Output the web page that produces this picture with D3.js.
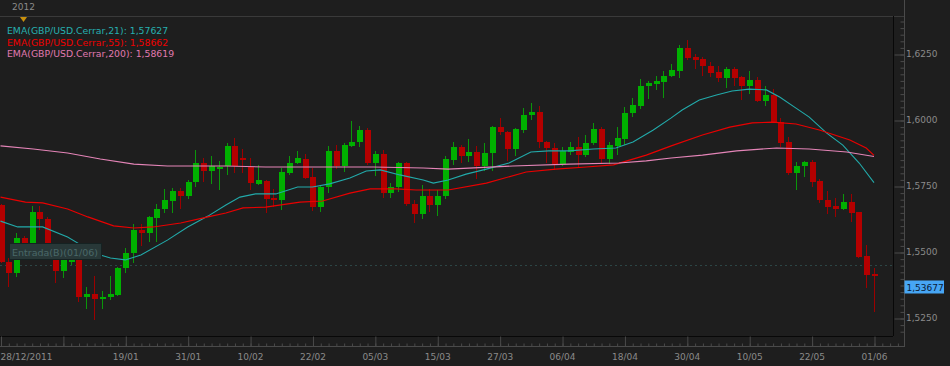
<!DOCTYPE html>
<html>
<head>
<meta charset="utf-8">
<script src="https://cdnjs.cloudflare.com/ajax/libs/d3/7.8.5/d3.min.js"></script>
<style>
body { margin: 0; background: #1e1e1e; }
svg { display: block; font-family: "DejaVu Sans", sans-serif; }
</style>
</head>
<body>
<svg id="chart" width="950" height="366"></svg>
<script>
// GBP/USD daily candles, 28/12/2011 .. 01/06/2012
var opens = [1.5678,1.5462,1.5420,1.5553,1.5508,1.5652,1.5625,1.5508,1.5428,1.5462,
	1.5500,1.5330,1.5341,1.5322,1.5330,1.5337,1.5439,1.5496,1.5583,1.5572,
	1.5629,1.5663,1.5693,1.5731,1.5712,1.5765,1.5837,1.5807,1.5814,1.5826,
	1.5902,1.5856,1.5822,1.5758,1.5769,1.5705,1.5697,1.5799,1.5837,1.5852,
	1.5784,1.5670,1.5746,1.5883,1.5826,1.5902,1.5917,1.5962,1.5837,1.5871,
	1.5723,1.5746,1.5837,1.5682,1.5644,1.5712,1.5678,1.5712,1.5848,1.5898,
	1.5864,1.5879,1.5826,1.5875,1.5973,1.5955,1.5890,1.5962,1.6019,1.6030,
	1.5917,1.5894,1.5833,1.5879,1.5898,1.5867,1.5913,1.5966,1.5852,1.5902,
	1.5928,1.6027,1.6053,1.6129,1.6136,1.6144,1.6167,1.6186,1.6273,1.6239,
	1.6231,1.6205,1.6182,1.6159,1.6193,1.6163,1.6129,1.6152,1.6072,1.6095,
	1.5992,1.5917,1.5799,1.5826,1.5841,1.5769,1.5697,1.5674,1.5663,1.5689,
	1.5652,1.5485,1.5417];
var highs = [1.5682,1.5477,1.5572,1.5561,1.5674,1.5674,1.5633,1.5523,1.5489,1.5489,
	1.5515,1.5367,1.5409,1.5352,1.5409,1.5443,1.5515,1.5606,1.5606,1.5636,
	1.5682,1.5739,1.5742,1.5742,1.5773,1.5886,1.5856,1.5864,1.5845,1.5913,
	1.5932,1.5890,1.5856,1.5830,1.5773,1.5739,1.5818,1.5864,1.5883,1.5871,
	1.5818,1.5754,1.5902,1.5905,1.5913,1.5996,1.5977,1.5970,1.5883,1.5886,
	1.5761,1.5841,1.5841,1.5697,1.5754,1.5739,1.5735,1.5864,1.5917,1.5905,
	1.5928,1.5902,1.5913,1.5977,1.6008,1.5958,1.5970,1.6045,1.6064,1.6053,
	1.5920,1.5913,1.5898,1.5917,1.5936,1.5943,1.5989,1.5973,1.5917,1.5973,
	1.6049,1.6083,1.6155,1.6148,1.6167,1.6186,1.6212,1.6284,1.6303,1.6250,
	1.6239,1.6220,1.6205,1.6201,1.6201,1.6167,1.6186,1.6163,1.6129,1.6117,
	1.6008,1.5936,1.5841,1.5845,1.5848,1.5777,1.5731,1.5705,1.5720,1.5720,
	1.5652,1.5527,1.5439];
var lows = [1.5458,1.5367,1.5405,1.5477,1.5496,1.5583,1.5508,1.5382,1.5402,1.5451,
	1.5311,1.5284,1.5243,1.5284,1.5318,1.5333,1.5420,1.5458,1.5523,1.5538,
	1.5538,1.5648,1.5648,1.5663,1.5701,1.5746,1.5765,1.5758,1.5735,1.5792,
	1.5799,1.5799,1.5735,1.5754,1.5648,1.5670,1.5659,1.5792,1.5833,1.5777,
	1.5655,1.5652,1.5723,1.5814,1.5803,1.5898,1.5898,1.5830,1.5788,1.5705,
	1.5705,1.5727,1.5674,1.5610,1.5625,1.5652,1.5636,1.5701,1.5830,1.5837,
	1.5841,1.5777,1.5807,1.5807,1.5943,1.5845,1.5864,1.5951,1.6000,1.5894,
	1.5837,1.5811,1.5826,1.5867,1.5818,1.5860,1.5905,1.5837,1.5833,1.5867,
	1.5905,1.6011,1.6042,1.6080,1.6114,1.6083,1.6163,1.6159,1.6227,1.6193,
	1.6167,1.6163,1.6144,1.6121,1.6129,1.6076,1.6098,1.6068,1.6053,1.5989,
	1.5898,1.5792,1.5735,1.5784,1.5746,1.5686,1.5644,1.5633,1.5659,1.5614,
	1.5477,1.5364,1.5273];
var closes = [1.5462,1.5420,1.5553,1.5489,1.5652,1.5625,1.5523,1.5428,1.5477,1.5477,
	1.5330,1.5341,1.5322,1.5330,1.5341,1.5439,1.5496,1.5583,1.5572,1.5633,
	1.5663,1.5697,1.5731,1.5712,1.5765,1.5837,1.5807,1.5826,1.5822,1.5902,
	1.5826,1.5848,1.5761,1.5773,1.5701,1.5697,1.5803,1.5837,1.5856,1.5780,
	1.5670,1.5746,1.5883,1.5826,1.5905,1.5917,1.5962,1.5837,1.5871,1.5723,
	1.5746,1.5837,1.5682,1.5644,1.5712,1.5678,1.5712,1.5852,1.5898,1.5864,
	1.5879,1.5826,1.5875,1.5973,1.5955,1.5890,1.5966,1.6019,1.6030,1.5917,
	1.5894,1.5833,1.5883,1.5898,1.5867,1.5913,1.5966,1.5852,1.5905,1.5932,
	1.6027,1.6057,1.6129,1.6140,1.6148,1.6167,1.6189,1.6273,1.6235,1.6227,
	1.6205,1.6178,1.6159,1.6193,1.6159,1.6129,1.6152,1.6072,1.6095,1.5992,
	1.5913,1.5799,1.5826,1.5841,1.5765,1.5697,1.5670,1.5663,1.5689,1.5648,
	1.5481,1.5413,1.5409];

// EMA curves, sampled along the picture (candle index, value)
var ema21Idx = [0,2.2,4.2,5.4,8.6,10.3,12.8,14.1,16,18,21.4,24,26.6,28.9,30.7,32.7,35.3,38.1,40,42.2,
	44.8,46.9,48.7,51.2,54.2,55.5,57.4,59.7,62.3,65.2,68,70.3,72.9,76,78.9,81.1,83.7,86,87.4,89.6,
	91.8,93.8,96,98.2,99.9,102,103.7,105.9,108,110.1,112];
var ema21Val = [1.5617,1.5595,1.5595,1.5595,1.5557,1.5527,1.5489,1.5477,1.5470,1.5489,1.5545,1.5595,1.5636,1.5678,1.5708,1.5720,1.5720,1.5746,1.5746,1.5758,
	1.5780,1.5807,1.5811,1.5792,1.5773,1.5761,1.5773,1.5795,1.5814,1.5837,1.5879,1.5883,1.5883,1.5890,1.5894,1.5917,1.5962,1.6008,1.6038,1.6076,
	1.6095,1.6110,1.6117,1.6114,1.6087,1.6045,1.6011,1.5951,1.5905,1.5837,1.5763];
var ema55Idx = [0,3.2,5.4,8.6,11.2,14.5,17.1,19.6,23.1,26.6,28.9,31.1,34,38.4,41.3,44.8,47.4,50.7,53.3,57.4,
	62.3,67.4,71.2,75.1,78.6,82.8,86,90,93.5,96.4,99,102,105,108.9,111,112];
var ema55Val = [1.5708,1.5689,1.5686,1.5663,1.5633,1.5599,1.5591,1.5595,1.5610,1.5633,1.5648,1.5667,1.5670,1.5689,1.5693,1.5723,1.5739,1.5739,1.5735,1.5735,
	1.5761,1.5803,1.5814,1.5822,1.5830,1.5867,1.5902,1.5943,1.5973,1.5989,1.5992,1.5985,1.5962,1.5924,1.5894,1.5866];
var ema200Idx = [0,4.2,8.6,12.8,17.1,21.4,28.9,34,41.3,47.8,54.2,57.4,65.7,72.9,79.3,82.8,86,90,94.4,99.5,103.7,108.5,112];
var ema200Val = [1.5902,1.5890,1.5875,1.5852,1.5833,1.5826,1.5826,1.5822,1.5822,1.5822,1.5818,1.5814,1.5826,1.5833,1.5837,1.5845,1.5856,1.5867,1.5883,1.5894,1.5890,1.5879,1.5862];

var legendLabels = ['EMA(GBP/USD.Cerrar,21): 1,57627', 'EMA(GBP/USD.Cerrar,55): 1,58662', 'EMA(GBP/USD.Cerrar,200): 1,58619'];
var xTickIdx = [0,8,16,24,32,40,48,56,64,72,80,88,96,104,112];
var xTickLabels = ['28/12/2011','','19/01','31/01','10/02','22/02','05/03','15/03','27/03','06/04','18/04','30/04','10/05','22/05','01/06'];
var yMajor = [1.5250,1.5500,1.5750,1.6000,1.6250];
var lastPrice = 1.53677;
var entryPrice = 1.5451;
var entryLabel = 'Entrada(B)(01/06)';

var W = 950, H = 366;
var plotRight = 893, plotTop = 16, plotBottom = 336, axisX = 904, axisY = 346;
var colUp = '#00b000', colDown = '#b40000';
var colEma = ['#22aaaa', '#ea0000', '#e585b8'];
var colLegend = ['#26b0b0', '#f00000', '#e07ab0'];

var svg = d3.select('#chart');
var x = d3.scaleLinear().domain([0, 112]).range([0.5, 874]);
var y = d3.scaleLinear().domain([1.5250, 1.6250]).range([318, 54]);

svg.append('rect').attr('width', W).attr('height', H).attr('fill', '#1e1e1e');

svg.append('clipPath').attr('id', 'plotClip')
	.append('rect').attr('x', 0).attr('y', plotTop).attr('width', plotRight).attr('height', plotBottom - plotTop);

var plot = svg.append('g').attr('clip-path', 'url(#plotClip)');

// entry dotted line
plot.append('line')
	.attr('x1', 0).attr('x2', plotRight)
	.attr('y1', Math.round(y(entryPrice)) + 0.5).attr('y2', Math.round(y(entryPrice)) + 0.5)
	.attr('stroke', '#2c4646').attr('stroke-dasharray', '2,3');

var candles = d3.range(closes.length).map(function(i) {
	return { i: i, o: opens[i], h: highs[i], l: lows[i], c: closes[i] };
});

var cg = plot.selectAll('g.candle')
	.data(candles)
	.enter()
	.append('g')
	.attr('class', 'candle');

cg.append('line')
	.attr('x1', function(d) { return Math.round(x(d.i)) + 0.5; })
	.attr('x2', function(d) { return Math.round(x(d.i)) + 0.5; })
	.attr('y1', function(d) { return Math.round(y(d.h)); })
	.attr('y2', function(d) { return Math.round(y(d.l)); })
	.attr('stroke', function(d) { return d.c >= d.o ? '#0a960a' : '#9c0000'; });

cg.append('rect')
	.attr('x', function(d) { return Math.round(x(d.i)) - 2; })
	.attr('width', 6)
	.attr('y', function(d) { return Math.round(y(Math.max(d.o, d.c))); })
	.attr('height', function(d) { return Math.max(2, Math.round(Math.abs(y(d.o) - y(d.c)))); })
	.attr('fill', function(d) { return d.c >= d.o ? colUp : colDown; });

// EMA lines
var emaLine = d3.line()
	.x(function(d) { return x(d[0]); })
	.y(function(d) { return y(d[1]); });

[[ema21Idx, ema21Val], [ema55Idx, ema55Val], [ema200Idx, ema200Val]].forEach(function(s, k) {
	plot.append('path')
		.datum(d3.zip(s[0], s[1]))
		.attr('d', emaLine)
		.attr('fill', 'none')
		.attr('stroke', colEma[k])
		.attr('stroke-width', 1.1);
});

// entry label box
var eg = svg.append('g');
eg.append('rect')
	.attr('x', 9.5).attr('y', Math.round(y(entryPrice)) - 21.5)
	.attr('width', 92).attr('height', 16)
	.attr('fill', '#283838').attr('stroke', '#152222');
eg.append('text')
	.attr('x', 12).attr('y', Math.round(y(entryPrice)) - 9.5)
	.attr('font-size', '9.5px').attr('fill', '#4a6868')
	.text(entryLabel);

// frame lines
svg.append('line').attr('x1', 0).attr('x2', axisX).attr('y1', plotTop + 0.5).attr('y2', plotTop + 0.5).attr('stroke', '#3a3a3a');
svg.append('line').attr('x1', plotRight + 0.5).attr('x2', plotRight + 0.5).attr('y1', plotTop).attr('y2', plotBottom).attr('stroke', '#080808');
svg.append('line').attr('x1', 0).attr('x2', plotRight).attr('y1', plotBottom + 0.5).attr('y2', plotBottom + 0.5).attr('stroke', '#080808');
svg.append('line').attr('x1', axisX + 0.5).attr('x2', axisX + 0.5).attr('y1', 0).attr('y2', axisY).attr('stroke', '#4a4a4a');
svg.append('line').attr('x1', 0).attr('x2', axisX + 1).attr('y1', axisY + 0.5).attr('y2', axisY + 0.5).attr('stroke', '#4a4a4a');

// y axis ticks
var yMinor = d3.range(48).map(function(k) { return +(1.52 + k * 0.0025).toFixed(4); });
var yMinorAxis = svg.append('g').attr('transform', 'translate(' + (axisX + 0.5) + ',0.5)')
	.call(d3.axisLeft(y).tickValues(yMinor).tickSize(4).tickFormat(''));
var yMajorAxis = svg.append('g').attr('transform', 'translate(' + (axisX + 0.5) + ',0.5)')
	.call(d3.axisLeft(y).tickValues(yMajor).tickSize(10).tickFormat(''));
var yLabels = svg.append('g').attr('transform', 'translate(' + (axisX + 0.5) + ',0)')
	.call(d3.axisRight(y).tickValues(yMajor).tickSize(0).tickPadding(1.5)
		.tickFormat(function(d) { return d3.format('.4f')(d).replace('.', ','); }));
[yMinorAxis, yMajorAxis, yLabels].forEach(function(g) {
	g.select('.domain').remove();
	g.selectAll('line').attr('stroke', '#4a4a4a');
	g.selectAll('text').attr('fill', '#8a8a8a').attr('font-size', '9px').attr('font-family', 'DejaVu Sans');
});

// x axis ticks
var xMinor = d3.range(-1, 116);
var xMinorAxis = svg.append('g').attr('transform', 'translate(0.5,' + (axisY + 0.5) + ')')
	.call(d3.axisTop(x).tickValues(xMinor).tickSize(3).tickFormat(''));
var xMajorAxis = svg.append('g').attr('transform', 'translate(0.5,' + (axisY + 0.5) + ')')
	.call(d3.axisTop(x).tickValues(xTickIdx).tickSize(10).tickFormat(''));
var xLabels = svg.append('g').attr('transform', 'translate(0,' + axisY + ')')
	.call(d3.axisBottom(x).tickValues(xTickIdx).tickSize(0).tickPadding(8)
		.tickFormat(function(d, i) { return xTickLabels[i]; }));
[xMinorAxis, xMajorAxis, xLabels].forEach(function(g) {
	g.select('.domain').remove();
	g.selectAll('line').attr('stroke', '#4a4a4a');
	g.selectAll('text').attr('fill', '#8a8a8a').attr('font-size', '9px').attr('font-family', 'DejaVu Sans');
});
xMinorAxis.selectAll('.tick').filter(function(d) { return x(d) < 0 || x(d) > axisX; }).remove();
xLabels.selectAll('.tick text').filter(function(d, i) { return i === 0; })
	.attr('text-anchor', 'start').attr('x', -0.5);

// last price tag
var lp = svg.append('g').attr('transform', 'translate(' + (axisX + 0.5) + ',' + Math.round(y(lastPrice)) + ')');
lp.append('rect').attr('x', 0).attr('y', -6.5).attr('width', 39.5).attr('height', 13).attr('fill', '#47a6f4');
lp.append('text').attr('x', 2).attr('y', 3.5).attr('font-size', '9px').attr('fill', '#0a1a36')
	.text(d3.format('.5f')(lastPrice).replace('.', ','));

// top navigator: year + marker
svg.append('text').attr('x', 12).attr('y', 10).attr('font-size', '9px').attr('fill', '#8a8a8a').text('2012');
svg.append('path').attr('d', 'M20,17L27,17L23.5,22Z').attr('fill', '#c8900c');

// legend
svg.append('g').selectAll('text')
	.data(legendLabels)
	.enter()
	.append('text')
	.attr('x', 7)
	.attr('y', function(d, i) { return 34.3 + i * 11.5; })
	.attr('font-size', '9.3px')
	.attr('fill', function(d, i) { return colLegend[i]; })
	.text(function(d) { return d; });
</script>
</body>
</html>
